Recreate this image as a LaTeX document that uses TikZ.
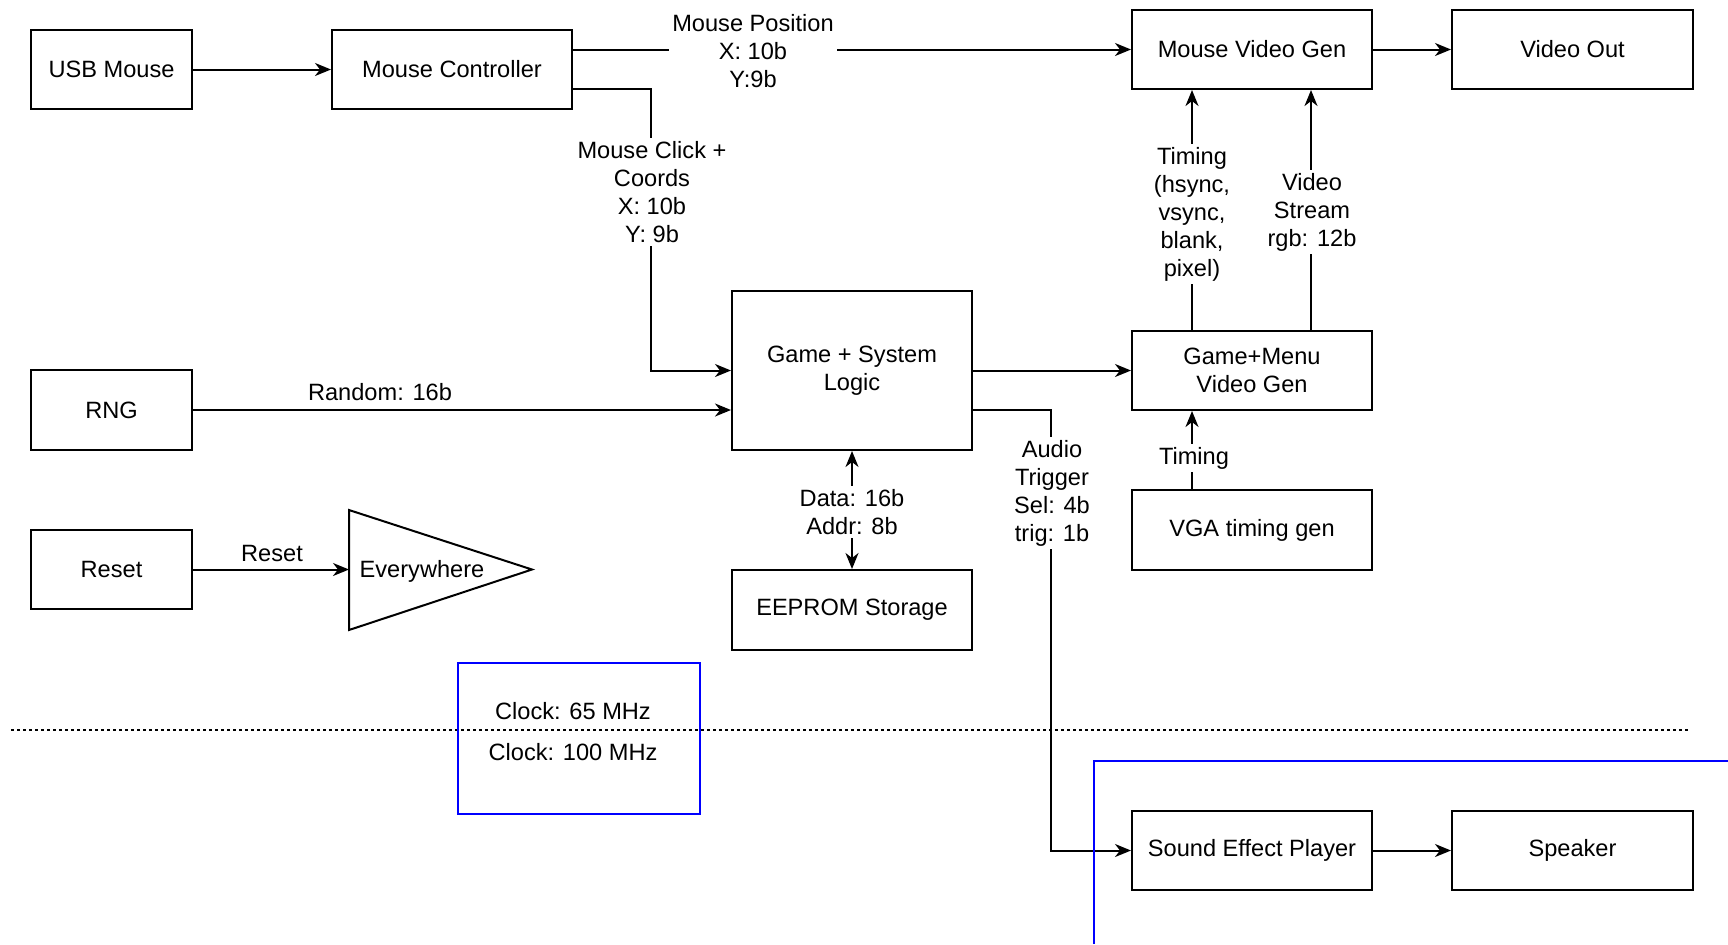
\documentclass[tikz,border=0pt]{standalone}
\usepackage{fontspec}
\setmainfont{Liberation Sans}
\usetikzlibrary{arrows.meta,calc}
\definecolor{pureblue}{RGB}{0,0,255}
\begin{document}
\begin{tikzpicture}[x=0.5pt,y=-0.5pt,
  txt/.style={font=\fontsize{11.8}{14}\selectfont, align=center},
  blk/.style={txt, draw, line width=1pt, minimum width=120pt, minimum height=39.5pt, inner sep=0pt},
  sblk/.style={blk, minimum width=80.5pt},
  lbl/.style={txt, fill=white, inner sep=1.5pt},
  ln/.style={line width=1pt},
  arr/.style={ln, -{Stealth[length=8pt,width=6.5pt,inset=2.5pt]}},
  darr/.style={ln, {Stealth[length=8pt,width=6.5pt,inset=2.5pt]}-{Stealth[length=8pt,width=6.5pt,inset=2.5pt]}},
  bluebox/.style={draw=pureblue, line width=1pt}]
\useasboundingbox (0,0) rectangle (1728,944);
\fill[white] (0,0) rectangle (1728,944);

% blocks
\node[sblk] (usb) at (111.5,69.5) {USB Mouse};
\node[blk] (mc) at (452,69.5) {Mouse Controller};
\node[blk] (mvg) at (1252,49.5) {Mouse Video Gen};
\node[blk, minimum width=120.5pt] (vout) at (1572.5,49.5) {Video Out};
\node[sblk, minimum height=40pt] (rng) at (111.5,410) {RNG};
\node[blk, minimum height=79.5pt] (gsl) at (852,370.5) {Game + System\\Logic};
\node[blk] (gmv) at (1252,370.5) {Game+Menu\\Video Gen};
\node[blk, minimum height=40pt] (vga) at (1252,530) {VGA timing gen};
\node[sblk] (reset) at (111.5,569.5) {Reset};
\node[blk, minimum height=40pt] (eeprom) at (852,610) {EEPROM Storage};
\node[blk] (sfp) at (1252,850.5) {Sound Effect Player};
\node[blk, minimum width=120.5pt] (spk) at (1572.5,850.5) {Speaker};

% triangle "Everywhere"
\coordinate (trileft) at (349,569.5);
\draw[ln, line join=miter] (349,510) -- (532,569.5) -- (349,630) -- cycle;
\node[txt] (evw) at (422,571) {Everywhere};

% connectors
\draw[arr] (usb.east) -- (mc.west);
\draw[arr] (mc.east |- mvg.west) -- (mvg.west);
\node[lbl] (lpos) at (753,51) {Mouse Position\\X: 10b\\Y:9b};
\draw[arr] ($(mc.east)+(0,19.5)$) -| ($(gsl.west)+(-80,0)$) -- (gsl.west);
\node[lbl] (lclick) at (652,192) {Mouse Click +\\Coords\\X: 10b\\Y: 9b};
\draw[arr] (rng.east) -- (rng.east -| gsl.west);
\node[txt] (lrnd) at (380,392) {Random: 16b};
\draw[arr] (gsl.east) -- (gmv.west);
\draw[arr] ($(gsl.east)+(0,39.5)$) -| ($(sfp.west)+(-80,0)$) -- (sfp.west);
\node[lbl] (laudio) at (1052,493) {Audio\\Trigger\\Sel: 4b\\trig: 1b};
\draw[darr] (gsl.south) -- (eeprom.north);
\node[lbl] (ldata) at (852,512) {Data: 16b\\Addr: 8b};
\draw[arr] ($(gmv.north)+(-60,0)$) -- ($(mvg.south)+(-60,0)$);
\node[lbl] (ltim) at (1192,214) {Timing\\(hsync,\\vsync,\\blank,\\pixel)};
\draw[arr] ($(gmv.north)+(59,0)$) -- ($(mvg.south)+(59,0)$);
\node[lbl] (lvid) at (1312,212) {Video\\Stream\\rgb: 12b};
\draw[arr] ($(vga.north)+(-60,0)$) -- ($(gmv.south)+(-60,0)$);
\node[lbl] (ltim2) at (1194,458) {Timing};
\draw[arr] (reset.east) -- (trileft);
\node[txt] (lreset) at (272,553) {Reset};
\draw[arr] (mvg.east) -- (vout.west);
\draw[arr] (sfp.east) -- (spk.west);

% clock domain separator
\draw[line width=1pt, dash pattern=on 1.5pt off 1.5pt] (11,730) -- (1688,730);
\draw[bluebox] (458,663) rectangle (700,814);
\node[txt] (clk65) at (573,711) {Clock: 65 MHz};
\node[txt] (clk100) at (573,752) {Clock: 100 MHz};
\draw[bluebox] (1728,761) -- (1094,761) -- (1094,944);
\end{tikzpicture}
\end{document}
